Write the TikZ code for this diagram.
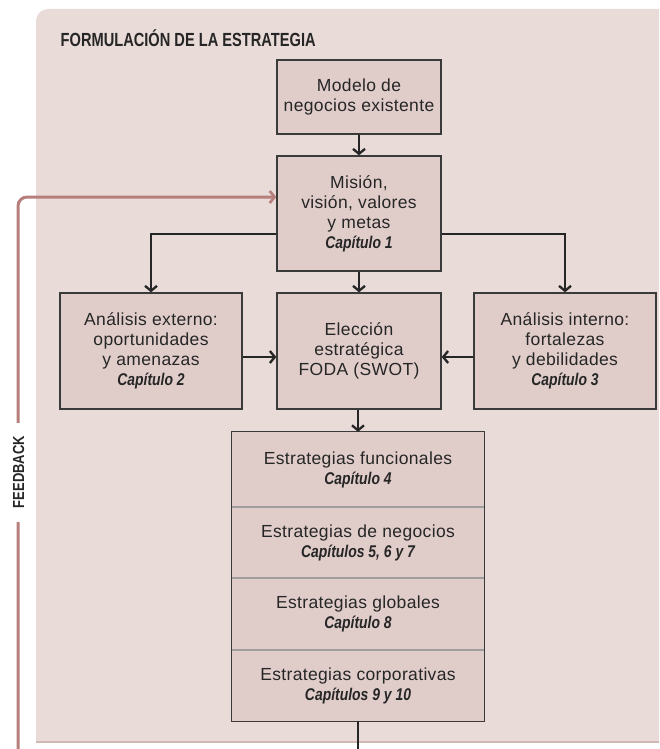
\documentclass[tikz,border=0pt]{standalone}
\usepackage{fontspec}
\usetikzlibrary{arrows.meta,calc}

\newfontfamily\bodyfam{Liberation Sans}[LetterSpace=2]
\newfontfamily\capfam{Liberation Sans}[FakeStretch=0.82]
\newfontfamily\condfam{Liberation Sans}[FakeStretch=0.77]
\newfontfamily\sidefam{Liberation Sans}[FakeStretch=0.81]

\newcommand{\chap}[1]{{\capfam\fontsize{17}{20}\selectfont\bfseries\itshape #1}}

\definecolor{panelfill}{HTML}{E8DBD8}
\definecolor{paneledge}{HTML}{D2B8B5}
\definecolor{boxfill}{HTML}{E0CDCA}
\definecolor{boxline}{HTML}{3A3A3A}
\definecolor{txt}{HTML}{262626}
\definecolor{divline}{HTML}{9E9E9E}
\definecolor{fbcol}{HTML}{B77F7B}

\tikzset{
  flowbox/.style={draw=boxline, fill=boxfill, line width=1.3pt, inner sep=0pt,
    align=center, text=txt, font=\bodyfam\fontsize{17.5}{20}\selectfont},
  rowbox/.style={fill=boxfill, inner sep=0pt, minimum width=253pt,
    align=center, text=txt, font=\bodyfam\fontsize{17.5}{20}\selectfont},
  conn/.style={draw=txt, line width=1.7pt,
    -{Straight Barb[length=5pt,width=12pt,line width=2.3pt]}},
  plainconn/.style={draw=txt, line width=1.7pt},
  fbline/.style={draw=fbcol, line width=3pt, rounded corners=9pt,
    -{Straight Barb[length=5pt,width=12pt,line width=2.6pt]}},
  divider/.style={draw=divline, line width=1.6pt},
}

\begin{document}
\begin{tikzpicture}[x=1pt,y=-1pt]
  \useasboundingbox (0,0) rectangle (659,749);
  \clip (0,0) rectangle (659,749);

  % background panel
  \fill[panelfill] (36,742) [rounded corners=12pt] -- (36,9) [sharp corners] -- (670,9) -- (670,742) -- cycle;
  \draw[paneledge, line width=1.2pt] (36,742) -- (670,742);

  \node[anchor=base west, text=txt, inner sep=0pt,
        font=\condfam\fontsize{19}{20}\selectfont\bfseries] (title) at (60.5,46.5)
        {FORMULACIÓN DE LA ESTRATEGIA};

  % main boxes
  \node[flowbox, minimum width=164pt, minimum height=74pt] (modelo) at (359,97)
        {Modelo de\\negocios existente};
  \node[flowbox, minimum width=164pt, minimum height=115pt] (mision) at (359,213.5)
        {Misión,\\visión, valores\\y metas\\\chap{Capítulo 1}};
  \node[flowbox, minimum width=182pt, minimum height=116pt] (ext) at (151,351)
        {Análisis externo:\\oportunidades\\y amenazas\\\chap{Capítulo 2}};
  \node[flowbox, minimum width=164pt, minimum height=116pt] (elec) at (359,351)
        {Elección\\estratégica\\FODA (SWOT)};
  \node[flowbox, minimum width=182pt, minimum height=116pt] (int) at (565,351)
        {Análisis interno:\\fortalezas\\y debilidades\\\chap{Capítulo 3}};

  % stacked strategies
  \node[rowbox, minimum height=75pt] (r1) at (358,469.5)
        {Estrategias funcionales\\\chap{Capítulo 4}};
  \node[rowbox, minimum height=71pt] (r2) at (358,542.5)
        {Estrategias de negocios\\\chap{Capítulos 5, 6 y 7}};
  \node[rowbox, minimum height=72pt] (r3) at (358,614)
        {Estrategias globales\\\chap{Capítulo 8}};
  \node[rowbox, minimum height=71pt] (r4) at (358,685.5)
        {Estrategias corporativas\\\chap{Capítulos 9 y 10}};
  \draw[divider] (r1.south west) -- (r1.south east);
  \draw[divider] (r2.south west) -- (r2.south east);
  \draw[divider] (r3.south west) -- (r3.south east);
  \draw[draw=boxline, line width=1.3pt] (r1.north west) rectangle (r4.south east);

  % connectors
  \draw[conn] (modelo.south) -- (mision.north);
  \draw[conn] ([yshift=-20.5pt]mision.west) -| (ext.north);
  \draw[conn] ([yshift=-20.5pt]mision.east) -| (int.north);
  \draw[conn] (mision.south) -- (elec.north);
  \draw[conn] ([yshift=-6pt]ext.east) -- ([yshift=-6pt]elec.west);
  \draw[conn] ([yshift=-6pt]int.west) -- ([yshift=-6pt]elec.east);
  \draw[conn] (elec.south -| r1.north) -- (r1.north);
  \coordinate (out) at (358,765);
  \draw[plainconn] (r4.south) -- (out);

  % feedback loop
  \coordinate (fbs) at (34,757);
  \coordinate (fbb) at (18,757);
  \coordinate (fbc) at (18,197);
  \draw[fbline] (fbs) -- (fbb) -- (fbc) -- ([yshift=16.5pt]mision.west);
  \node[rotate=90, fill=white, text=txt, inner xsep=13.5pt, inner ysep=2pt,
        font=\sidefam\fontsize{16}{16}\selectfont\bfseries] (fb) at (18.5,472)
        {FEEDBACK};
\end{tikzpicture}
\end{document}
